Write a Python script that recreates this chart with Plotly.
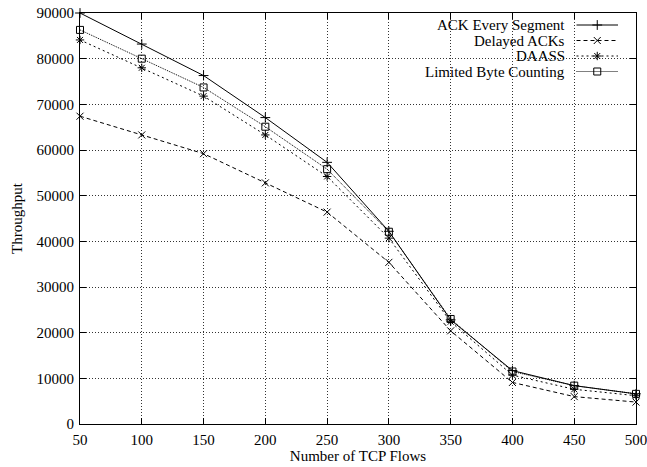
import plotly.graph_objects as go

flows = [50, 100, 150, 200, 250, 300, 350, 400, 450, 500]
ack_every = [90000, 83200, 76300, 67100, 57300, 42200, 22800, 11700, 8400, 6600]
delayed = [67400, 63300, 59200, 52800, 46400, 35400, 20400, 9100, 6000, 4800]
daass = [84100, 78000, 71800, 63300, 54200, 40700, 22400, 10700, 7600, 6200]
lbc = [86300, 80000, 73700, 65100, 55800, 42100, 23000, 11500, 8400, 6600]

names = ["ACK Every Segment", "Delayed ACKs", "DAASS", "Limited Byte Counting"]
series = [ack_every, delayed, daass, lbc]
dashes = ["solid", "4px,3px", "2px,3px", "1px,1px"]
symbols = ["cross-thin-open", "x-thin-open", "asterisk-open", "square-open"]
sizes = [7, 7, 7, 7]

x_ticks = [50, 100, 150, 200, 250, 300, 350, 400, 450, 500]
y_ticks = [0, 10000, 20000, 30000, 40000, 50000, 60000, 70000, 80000, 90000]
y_tick_labels = [str(v) for v in y_ticks]
x_tick_labels = [str(v) for v in x_ticks]

FONT = "Liberation Serif"
FS = 15
W, H = 647, 467
L, T, R, B = 80, 13, 11, 43
PW, PH = W - L - R, H - T - B

fig = go.Figure()
for name, ys, d, s, sz in zip(names, series, dashes, symbols, sizes):
    fig.add_trace(go.Scatter(
        x=flows, y=ys, name=name, mode="lines+markers", cliponaxis=False,
        line=dict(color="black", width=1, dash=d),
        marker=dict(symbol=s, size=sz, color="black", line=dict(color="black", width=1)),
        showlegend=False,
    ))

# manual gnuplot-style legend (text right-aligned, sample to the right)
row_y = [PH - 12, PH - 27.5, PH - 43, PH - 58.5]
text_x = 486.5
sample_x0, sample_x1 = 496.5, 538
for name, d, s, sz, yy in zip(names, dashes, symbols, sizes, row_y):
    fig.add_trace(go.Scatter(
        x=[sample_x0, (sample_x0 + sample_x1) / 2, sample_x1], y=[yy, yy, yy],
        xaxis="x2", yaxis="y2", mode="lines", showlegend=False, hoverinfo="skip",
        line=dict(color="black", width=1, dash=d),
    ))
    fig.add_trace(go.Scatter(
        x=[(sample_x0 + sample_x1) / 2], y=[yy],
        xaxis="x2", yaxis="y2", mode="markers", showlegend=False, hoverinfo="skip",
        marker=dict(symbol=s, size=sz, color="black", line=dict(color="black", width=1)),
    ))
    fig.add_annotation(x=text_x, y=yy, xref="x2", yref="y2", text=name,
                       showarrow=False, xanchor="right", yanchor="middle",
                       font=dict(family=FONT, size=FS, color="black"))

axis_common = dict(
    showline=True, linecolor="black", linewidth=1, mirror="allticks",
    ticks="inside", ticklen=6, tickcolor="black", tickwidth=1,
    showgrid=True, gridcolor="#333", griddash="1px,2px", gridwidth=1,
    zeroline=False, automargin=False, ticklabeloverflow="allow",
    tickfont=dict(family=FONT, size=FS, color="black"),
)

fig.update_layout(
    width=W, height=H,
    margin=dict(l=L, r=R, t=T, b=B),
    paper_bgcolor="white", plot_bgcolor="white",
    font=dict(family=FONT, size=FS, color="black"),
    xaxis=dict(range=[50, 500], tickvals=x_ticks, ticktext=x_tick_labels,
               ticklabelstandoff=2,
               title=dict(text="Number of TCP Flows", standoff=0,
                          font=dict(family=FONT, size=FS)),
               **axis_common),
    yaxis=dict(range=[0, 90000], tickvals=y_ticks, ticktext=y_tick_labels,
               ticklabelstandoff=2,
               title=dict(text="Throughput", standoff=10,
                          font=dict(family=FONT, size=FS)),
               **axis_common),
    xaxis2=dict(overlaying="x", range=[0, PW], visible=False, fixedrange=True),
    yaxis2=dict(overlaying="y", range=[0, PH], visible=False, fixedrange=True),
)

fig.write_html(
    "out.html",
    config={"displayModeBar": False},
    post_script="document.body.style.margin='0';document.body.style.overflow='hidden';",
)
